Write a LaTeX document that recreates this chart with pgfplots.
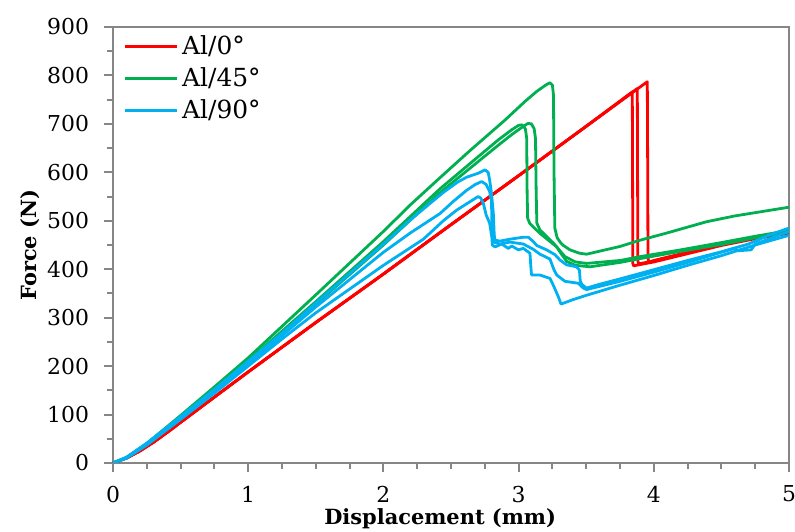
\documentclass[border=0pt]{standalone}
\usepackage{fontspec}
\setmainfont{DejaVu Serif}
\usepackage{pgfplots}
\pgfplotsset{compat=1.18}
\definecolor{xlred}{HTML}{FF0000}
\definecolor{xlgreen}{HTML}{00B050}
\definecolor{xlblue}{HTML}{00B0F0}
\definecolor{axgray}{HTML}{868686}

\begin{document}
\begin{tikzpicture}
\begin{axis}[
  scale only axis, width=338bp, height=218bp,
  xmin=0, xmax=5, ymin=0, ymax=900,
  xtick={0,1,2,3,4,5}, ytick={0,100,...,900},
  minor x tick num=3, minor y tick num=1,
  tick align=outside, tick pos=left,
  major tick length=4.5bp, minor tick length=3bp,
  axis line style={axgray, line width=1bp},
  every tick/.style={axgray, line width=1bp},
  every minor tick/.style={axgray, line width=1bp},
  tick label style={font=\fontsize{11}{13}\selectfont},
  yticklabel style={xshift=-4bp},
  xticklabel style={yshift=-3.5bp},
  /pgf/number format/assume math mode=true,
  xlabel={\textbf{Displacement (mm)}}, ylabel={\textbf{Force (N)}},
  xlabel style={at={(axis description cs:0.484,-0.128)}, anchor=center, font=\fontsize{10.5}{12}\selectfont},
  ylabel style={at={(axis description cs:-0.1228,0.5)}, anchor=center, font=\fontsize{10.5}{12}\selectfont},
  legend style={at={(0,1)}, anchor=north west, xshift=2bp, draw=none, fill=none,
    font=\fontsize{12.5}{14.5}\selectfont, row sep=1.2bp},
  legend cell align=left,
  legend image code/.code={\draw[#1] (0bp,0bp) -- (26bp,0bp);},
  every axis plot/.append style={line width=1.4bp, line join=round},
]
% Al/0
\addplot[xlred] coordinates {(0,0) (0.1,10) (0.2,25) (0.3,43) (0.4,63) (0.5,84) (0.75,136) (1,188) (1.5,290) (2,390) (2.5,492) (3,593) (3.5,695)
 (3.952,787) (3.955,600) (3.957,425) (3.962,414) (4.0,418) (4.25,435) (4.5,452) (4.75,466) (5,478)};
\addlegendentry{Al/0°}
\addplot[xlred, forget plot] coordinates {(0,0) (0.1,10) (0.2,25) (0.3,43) (0.4,63) (0.5,84) (0.75,136) (1,188) (1.5,290) (2,390) (2.5,492) (3,593) (3.5,695)
 (3.878,773) (3.880,600) (3.882,418) (3.887,411) (4.0,417) (4.25,434) (4.5,451) (4.75,465) (5,476)};
\addplot[xlred, forget plot] coordinates {(0,0) (0.1,10) (0.2,25) (0.3,43) (0.4,63) (0.5,84) (0.75,136) (1,188) (1.5,290) (2,390) (2.5,492) (3,593) (3.5,695)
 (3.841,766) (3.843,600) (3.845,412) (3.850,407) (4.0,415) (4.25,432) (4.5,449) (4.75,463) (5,474)};
% Al/45
\addplot[xlgreen] coordinates {(0,0) (0.1,11) (0.25,40) (0.5,98) (0.75,157) (1,217) (1.25,282) (1.5,347) (2,478) (2.2,533) (2.419,589) (2.641,645) (2.9,708) (3.05,747) (3.134,767) (3.2,780) (3.232,785) (3.25,780) (3.258,760) (3.262,600) (3.268,485) (3.285,465) (3.31,455) (3.331,449) (3.38,440) (3.45,433) (3.503,431) (3.75,447) (3.9,460) (4.1,475) (4.39,498) (4.6,510) (4.8,519) (5,528)};
\addlegendentry{Al/45°}
\addplot[xlgreen, forget plot] coordinates {(0,0) (0.1,11) (0.25,40) (0.5,96) (0.75,153) (1,211) (1.5,333) (2,457) (2.419,566) (2.7,632) (2.85,667) (2.95,688) (3.0,697) (3.025,698) (3.05,690) (3.06,670) (3.063,560) (3.067,505) (3.084,494) (3.158,474) (3.22,460) (3.282,446) (3.32,430) (3.356,416) (3.42,408) (3.528,405) (3.75,414) (3.9,422) (4.2,437) (4.5,451) (4.75,465) (5,477)};
\addplot[xlgreen, forget plot] coordinates {(0,0) (0.1,11) (0.25,39) (0.5,94) (0.75,150) (1,207) (1.5,328) (2,450) (2.419,558) (2.7,622) (2.85,656) (2.95,678) (3.03,694) (3.07,701) (3.095,700) (3.115,690) (3.125,670) (3.13,560) (3.135,495) (3.158,481) (3.257,454) (3.3,440) (3.343,426) (3.42,415) (3.503,412) (3.75,418) (3.9,426) (4.2,440) (4.5,455) (4.75,468) (5,480)};
% Al/90
\addplot[xlblue] coordinates {(0,0) (0.1,12) (0.25,41) (0.5,96) (0.75,152) (1,210) (1.25,268) (1.5,330) (2,452) (2.2,502) (2.35,537) (2.45,560) (2.55,580) (2.616,590) (2.70,598) (2.752,605) (2.775,600) (2.786,584) (2.80,556) (2.813,515) (2.82,470) (2.826,460) (2.862,458) (2.936,462) (3.035,466) (3.072,466) (3.109,457) (3.134,449) (3.207,440) (3.269,430) (3.306,419) (3.355,409) (3.429,405) (3.45,398) (3.456,375) (3.47,368) (3.503,361) (3.6,369) (3.75,380) (4.0,399) (4.25,418) (4.5,436) (4.7,452) (4.85,470) (5,485)};
\addlegendentry{Al/90°}
\addplot[xlblue, forget plot] coordinates {(0,0) (0.1,11) (0.25,39) (0.5,93) (0.75,148) (1,205) (1.25,263) (1.5,322) (2,435) (2.2,475) (2.419,515) (2.517,540) (2.616,563) (2.68,575) (2.727,581) (2.76,575) (2.786,560) (2.80,540) (2.803,470) (2.805,450) (2.826,446) (2.875,452) (2.924,443) (2.949,448) (2.998,440) (3.035,443) (3.084,433) (3.092,400) (3.096,388) (3.158,388) (3.232,381) (3.26,365) (3.294,343) (3.314,328) (3.4,337) (3.5,346) (3.75,367) (4.0,387) (4.25,408) (4.5,428) (4.75,450) (5,470)};
\addplot[xlblue, forget plot] coordinates {(0,0) (0.1,10) (0.25,37) (0.5,90) (0.75,144) (1,200) (1.25,256) (1.5,310) (2,408) (2.296,462) (2.443,500) (2.542,522) (2.678,546) (2.70,550) (2.72,547) (2.74,535) (2.76,512) (2.786,495) (2.80,470) (2.813,456) (2.862,452) (2.936,456) (3.035,452) (3.109,441) (3.158,431) (3.232,421) (3.26,400) (3.282,388) (3.343,375) (3.442,371) (3.479,361) (3.503,358) (3.75,375) (4.0,394) (4.25,414) (4.5,435) (4.6,443) (4.62,438) (4.72,440) (4.75,452) (5,478)};
\end{axis}
\pgfresetboundingbox
\path ([shift={(-56.5bp,-34.5bp)}]current axis.south west) rectangle ([shift={(3bp,13.5bp)}]current axis.north east);
\end{tikzpicture}
\end{document}
